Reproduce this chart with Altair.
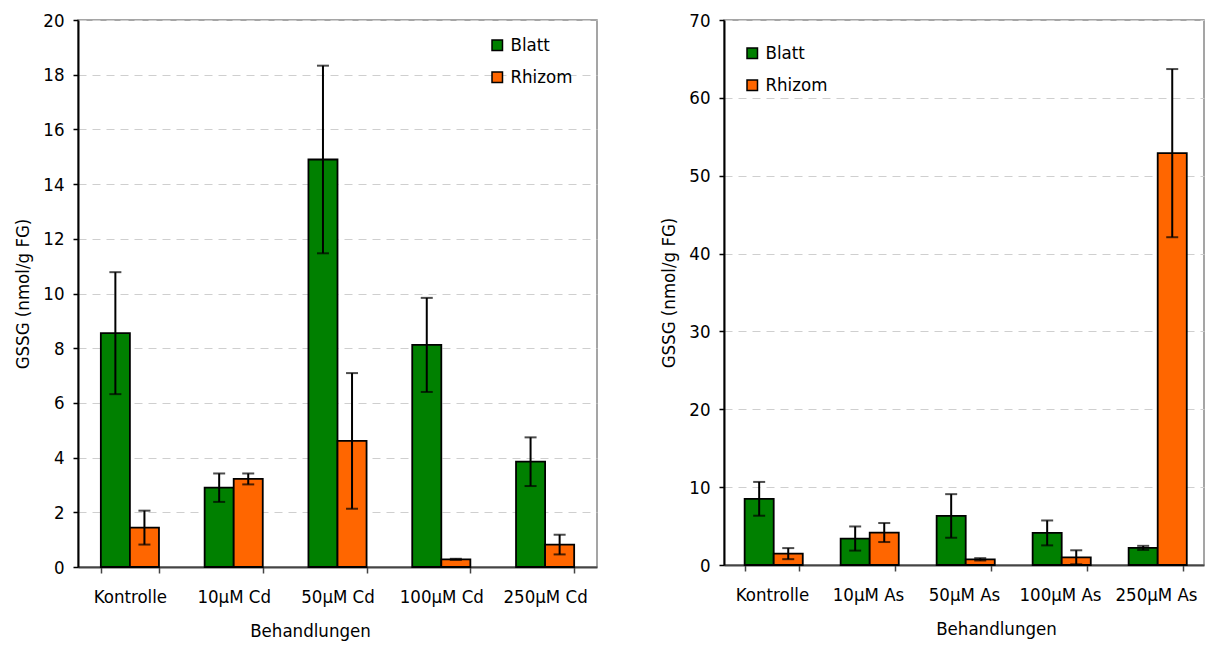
import altair as alt
import pandas as pd

series = ["Blatt", "Rhizom"]
colors = ["#008000", "#FF6600"]

cd_categories = ["Kontrolle", "10µM Cd", "50µM Cd", "100µM Cd", "250µM Cd"]
cd_blatt = [8.55, 2.9, 14.9, 8.12, 3.85]
cd_blatt_err = [2.23, 0.52, 3.43, 1.72, 0.89]
cd_rhizom = [1.44, 3.22, 4.61, 0.28, 0.82]
cd_rhizom_err = [0.62, 0.2, 2.48, 0.02, 0.36]

as_categories = ["Kontrolle", "10µM As", "50µM As", "100µM As", "250µM As"]
as_blatt = [8.5, 3.4, 6.3, 4.12, 2.2]
as_blatt_err = [2.17, 1.55, 2.8, 1.6, 0.26]
as_rhizom = [1.46, 4.17, 0.73, 0.99, 52.9]
as_rhizom_err = [0.71, 1.22, 0.15, 0.9, 10.8]

FONT = "DejaVu Sans Condensed, DejaVu Sans"
FS = 18.5


def panel(cats, blatt, blatt_err, rhizom, rhizom_err, ymax, ystep,
          width, height, legend_x, legend_y, title_x, pad_inner):
    rows = []
    for c, v, e in zip(cats, blatt, blatt_err):
        rows.append({"Behandlung": c, "Serie": "Blatt", "Wert": v, "Fehler": e})
    for c, v, e in zip(cats, rhizom, rhizom_err):
        rows.append({"Behandlung": c, "Serie": "Rhizom", "Wert": v, "Fehler": e})
    df = pd.DataFrame(rows)

    x_enc = alt.X(
        "Behandlung:N", sort=cats, title="Behandlungen",
        scale=alt.Scale(paddingInner=pad_inner, paddingOuter=pad_inner / 2),
        axis=alt.Axis(labelAngle=0, tickBand="extent", tickSize=6,
                      domainColor="#444444", domainWidth=2, tickColor="#444444",
                      tickWidth=1.5, labelPadding=14, labelFont=FONT,
                      labelFontSize=FS, labelColor="black", titleFont=FONT,
                      titleFontSize=FS, titleFontWeight="normal",
                      titleColor="black", titleX=title_x, titleY=54,
                      titleBaseline="top", grid=False),
    )
    xoff = alt.XOffset("Serie:N", sort=series,
                       scale=alt.Scale(paddingInner=0, paddingOuter=0))
    y_scale = alt.Scale(domain=[0, ymax], nice=False)
    y_axis = alt.Axis(values=list(range(0, ymax + 1, ystep)), tickSize=5,
                      domainColor="black", domainWidth=2, tickColor="black",
                      tickWidth=1.5, labelPadding=9, labelFont=FONT,
                      labelFontSize=FS, labelColor="black", titleFont=FONT,
                      titleFontSize=FS, titleFontWeight="normal",
                      titleColor="black", titlePadding=10, grid=True,
                      gridColor="#cfcfcf", gridDash=[8, 6], gridWidth=1)

    base = alt.Chart(df).encode(x=x_enc, xOffset=xoff)
    bars = base.mark_bar(stroke="black", strokeWidth=1.8).encode(
        y=alt.Y("Wert:Q", scale=y_scale, axis=y_axis, title="GSSG (nmol/g FG)"),
        color=alt.Color(
            "Serie:N",
            scale=alt.Scale(domain=series, range=colors),
            legend=alt.Legend(title=None, orient="none", legendX=legend_x,
                              legendY=legend_y, symbolType="square",
                              symbolSize=110, symbolStrokeColor="black",
                              symbolStrokeWidth=1.5, labelFont=FONT,
                              labelFontSize=FS, labelColor="black",
                              rowPadding=13, labelOffset=4, padding=0),
        ),
    )
    err = base.transform_calculate(lo="datum.Wert - datum.Fehler",
                                   hi="datum.Wert + datum.Fehler")
    rules = err.mark_rule(color="black", strokeWidth=2).encode(
        y=alt.Y("lo:Q", scale=y_scale), y2="hi:Q")
    cap_lo = err.mark_tick(color="black", thickness=2, size=12).encode(
        y=alt.Y("lo:Q", scale=y_scale))
    cap_hi = err.mark_tick(color="black", thickness=2, size=12).encode(
        y=alt.Y("hi:Q", scale=y_scale))
    return alt.layer(bars, rules, cap_lo, cap_hi).properties(width=width, height=height)


left = panel(cd_categories, cd_blatt, cd_blatt_err, cd_rhizom, cd_rhizom_err,
             20, 2, 519, 547, 410, 16, 232, 0.44)
right = panel(as_categories, as_blatt, as_blatt_err, as_rhizom, as_rhizom_err,
              70, 10, 480, 545, 19, 24, 272, 0.43)

chart = alt.hconcat(left, right, spacing=61).resolve_scale(
    color="independent", x="independent", y="independent"
).resolve_legend(color="independent").properties(
    padding={"left": 5, "top": 2, "right": 0, "bottom": 0}
).configure_view(stroke="#888888", strokeWidth=1.5)

chart.save("out.html", embed_options={"renderer": "svg", "actions": False})
